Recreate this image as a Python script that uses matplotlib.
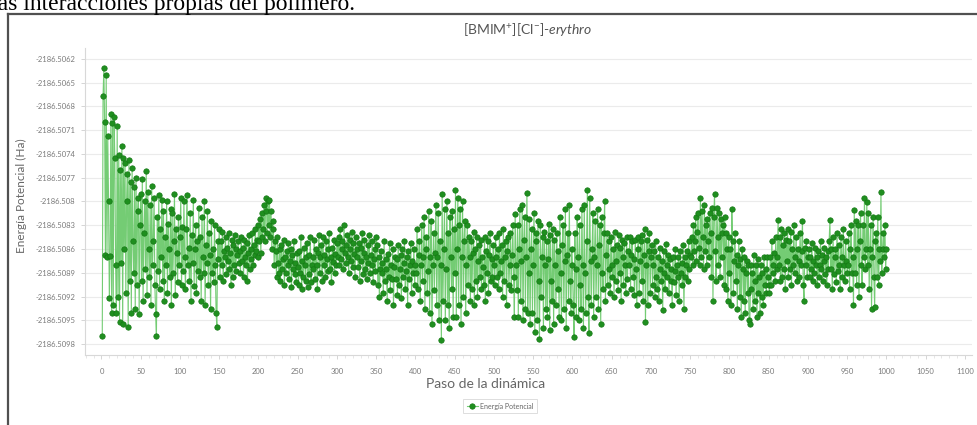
import matplotlib
matplotlib.use("Agg")
import matplotlib.pyplot as plt
from matplotlib.lines import Line2D
from matplotlib.ticker import MultipleLocator

# ---------------- data ----------------
ENERGY_BASE = -2186.5          # Ha
# energy = ENERGY_BASE - offset * 1e-5  (offsets, one per step)
energy_offset_1e5 = [
    969, 667, 632, 700, 868, 640, 870, 717, 799, 922, 869, 690, 941, 701, 930, 694, 745, 880, 940, 705, 920, 742, 952, 760, 878,
    730, 955, 745, 860, 752, 915, 800, 765, 958, 748, 900, 775, 940, 758, 850, 890, 782, 935, 770, 905, 812, 795, 942, 830, 790,
    900, 772, 925, 840, 800, 885, 762, 918, 788, 860, 895, 805, 930, 780, 880, 850, 795, 905, 942, 970, 820, 888, 792, 910, 835,
    870, 798, 900, 812, 925, 845, 880, 800, 915, 828, 860, 895, 810, 930, 815, 890, 850, 790, 918, 835, 865, 902, 820, 880, 845,
    795, 905, 832, 888, 800, 870, 910, 835, 792, 880, 858, 900, 815, 925, 842, 878, 798, 906, 860, 830, 915, 850, 888, 808, 895,
    845, 925, 820, 870, 890, 800, 930, 855, 878, 812, 905, 840, 868, 935, 825, 890, 860, 902, 830, 880, 940, 958, 850, 872, 835,
    895, 850, 880, 838, 900, 862, 870, 845, 892, 858, 875, 840, 885, 865, 905, 848, 895, 855, 880, 842, 888, 860, 868, 850, 878,
    862, 890, 845, 875, 858, 895, 848, 870, 880, 852, 900, 865, 842, 885, 860, 872, 840, 880, 855, 868, 835, 862, 848, 870, 830,
    850, 822, 865, 815, 845, 835, 805, 850, 812, 795, 840, 800, 830, 798, 845, 812, 860, 825, 835, 880, 850, 862, 895, 845, 878,
    890, 860, 900, 855, 885, 872, 848, 905, 870, 890, 862, 880, 852, 898, 875, 860, 908, 868, 885, 850, 892, 878, 902, 865, 882,
    905, 862, 890, 845, 910, 875, 895, 858, 880, 900, 870, 852, 908, 868, 892, 845, 902, 880, 870, 885, 848, 898, 860, 880, 910,
    865, 842, 890, 870, 855, 900, 845, 880, 868, 895, 850, 872, 888, 860, 840, 885, 870, 902, 858, 876, 848, 890, 866, 880, 852,
    870, 845, 880, 835, 872, 860, 850, 885, 830, 865, 855, 878, 842, 870, 890, 848, 860, 875, 838, 882, 852, 866, 895, 845, 870,
    860, 882, 852, 900, 858, 875, 840, 892, 865, 848, 885, 870, 898, 855, 878, 842, 890, 868, 880, 850, 902, 872, 860, 888, 845,
    855, 905, 870, 920, 885, 862, 890, 878, 915, 850, 900, 872, 885, 925, 866, 895, 852, 912, 880, 898, 860, 930, 882, 870, 898,
    872, 918, 855, 905, 885, 868, 922, 860, 895, 878, 850, 910, 888, 870, 930, 862, 898, 880, 852, 915, 875, 890, 860, 905, 880,
    890, 835, 910, 868, 850, 925, 880, 830, 900, 870, 820, 935, 860, 845, 915, 888, 812, 940, 870, 825, 955, 880, 840, 912, 865,
    805, 930, 870, 815, 950, 850, 880, 975, 791, 925, 860, 810, 950, 885, 800, 930, 840, 960, 820, 870, 910, 812, 945, 835, 890,
    786, 945, 860, 795, 930, 830, 810, 955, 870, 800, 920, 850, 825, 940, 880, 830, 905, 845, 870, 925, 850, 910, 865, 838, 930,
    860, 900, 845, 920, 875, 855, 895, 848, 910, 870, 882, 905, 845, 925, 862, 890, 850, 915, 868, 840, 900, 872, 895, 855, 880,
    905, 845, 870, 895, 860, 910, 840, 890, 875, 855, 920, 835, 900, 870, 850, 930, 862, 845, 905, 880, 840, 912, 868, 830, 895,
    945, 816, 880, 912, 830, 945, 860, 810, 925, 875, 805, 950, 848, 820, 935, 870, 789, 940, 890, 822, 955, 860, 835, 940, 880,
    815, 965, 850, 840, 950, 825, 900, 973, 830, 920, 870, 845, 960, 838, 880, 935, 850, 945, 872, 828, 962, 842, 900, 925, 835,
    955, 848, 880, 930, 840, 910, 862, 945, 820, 890, 950, 855, 830, 935, 875, 810, 960, 868, 840, 925, 805, 900, 940, 860, 880,
    930, 971, 840, 885, 945, 820, 870, 950, 830, 905, 935, 810, 880, 960, 805, 890, 940, 850, 786, 920, 966, 795, 875, 930, 860,
    815, 945, 870, 825, 920, 880, 810, 935, 855, 830, 954, 820, 890, 910, 840, 800, 925, 868, 840, 905, 850, 885, 915, 845, 880,
    895, 860, 920, 838, 900, 875, 855, 912, 842, 890, 858, 925, 848, 870, 905, 852, 880, 915, 845, 898, 862, 880, 845, 910, 868,
    850, 895, 872, 918, 848, 885, 931, 860, 845, 915, 875, 850, 900, 842, 925, 868, 835, 952, 880, 848, 930, 862, 840, 915, 870,
    855, 905, 880, 862, 920, 850, 895, 910, 870, 925, 858, 885, 900, 875, 937, 862, 890, 910, 853, 895, 880, 868, 915, 872, 900,
    885, 930, 870, 902, 888, 860, 918, 880, 895, 870, 925, 862, 890, 878, 905, 855, 935, 870, 895, 880, 862, 900, 850, 885, 868,
    870, 845, 880, 830, 862, 850, 820, 875, 838, 815, 858, 880, 796, 870, 812, 845, 885, 805, 862, 830, 880, 822, 850, 870, 815,
    840, 895, 808, 925, 820, 791, 862, 900, 808, 845, 880, 815, 895, 822, 870, 840, 830, 905, 820, 910, 840, 860, 925, 845, 890,
    860, 930, 810, 850, 915, 875, 840, 900, 868, 935, 880, 850, 920, 872, 945, 860, 885, 925, 870, 940, 890, 875, 915, 880, 950,
    954, 880, 910, 890, 935, 868, 925, 900, 880, 945, 872, 915, 895, 940, 880, 920, 890, 930, 870, 905, 885, 915, 870, 895, 905,
    915, 870, 905, 850, 890, 880, 865, 900, 845, 885, 870, 823, 880, 845, 900, 835, 895, 855, 885, 840, 910, 848, 875, 835, 895,
    850, 885, 838, 905, 860, 880, 830, 890, 870, 845, 900, 860, 875, 895, 840, 880, 862, 824, 905, 925, 858, 880, 850, 895, 870,
    860, 895, 870, 885, 852, 900, 875, 890, 858, 880, 870, 905, 862, 895, 880, 850, 885, 868, 900, 875, 858, 892, 870, 905, 862,
    885, 850, 823, 885, 860, 910, 845, 892, 870, 860, 902, 840, 888, 855, 880, 910, 845, 870, 895, 835, 880, 900, 850, 875, 890,
    880, 840, 910, 860, 830, 890, 870, 931, 811, 890, 825, 905, 860, 830, 920, 850, 815, 880, 905, 830, 870, 795, 885, 860, 801,
    880, 815, 910, 860, 830, 935, 870, 820, 895, 933, 850, 840, 895, 820, 905, 860, 875, 788, 890, 860, 840, 870, 830, 885, 860,
]
steps = list(range(1, len(energy_offset_1e5) + 1))
energy = [ENERGY_BASE - o * 1e-5 for o in energy_offset_1e5]

y_ticks = [-2186.5062, -2186.5065, -2186.5068, -2186.5071, -2186.5074, -2186.5077, -2186.5080,
           -2186.5083, -2186.5086, -2186.5089, -2186.5092, -2186.5095, -2186.5098]
y_tick_labels = ["-2186.5062", "-2186.5065", "-2186.5068", "-2186.5071", "-2186.5074", "-2186.5077",
                 "-2186.508", "-2186.5083", "-2186.5086", "-2186.5089", "-2186.5092", "-2186.5095",
                 "-2186.5098"]
x_ticks = list(range(0, 1101, 50))

title_text = r"[BMIM$^{+}$][Cl$^{-}$]-$\mathit{erythro}$"
x_label = "Paso de la dinámica"
y_label = "Energía Potencial (Ha)"
series_name = "Energía Potencial"
doc_text = "las interacciones propias del polímero."

# ---------------- style ----------------
plt.rcParams["font.family"] = ["Lato", "DejaVu Sans"]
plt.rcParams["mathtext.fontset"] = "custom"
plt.rcParams["mathtext.rm"] = "Lato"
plt.rcParams["mathtext.it"] = "Lato:italic"

W, H = 977, 425
fig = plt.figure(figsize=(W / 100, H / 100), dpi=100)
fig.patch.set_facecolor("white")

def fx(px):
    return px / W

def fy(py):
    return 1 - py / H

# document text (cut at the top)
fig.text(fx(-9), fy(10), doc_text, family=["Liberation Serif"], fontsize=17,
         color="black", ha="left", va="baseline")

# chart frame (left and top edges visible)
fig.add_artist(Line2D([fx(7.5), fx(7.5)], [fy(14), fy(440)], color="#505050", lw=1.6))
fig.add_artist(Line2D([fx(7.5), fx(990)], [fy(14), fy(14)], color="#505050", lw=1.6))

ax = fig.add_axes([fx(85), fy(355), fx(972) - fx(85), fy(48) - fy(355)])
ax.set_facecolor("white")

ax.plot(steps, energy, color="#74cc74", lw=0.8, marker="o", markersize=3.9,
        markerfacecolor="#1f8f1f", markeredgecolor="#147814", markeredgewidth=0.5,
        label=series_name, zorder=3)

ax.set_xlim(-21, 1109)
ax.set_ylim(-2186.509935, -2186.506065)
ax.set_yticks(y_ticks)
ax.set_yticklabels(y_tick_labels)
ax.set_xticks(x_ticks)
ax.set_xticklabels([str(t) for t in x_ticks])
ax.xaxis.set_minor_locator(MultipleLocator(10))

ax.grid(axis="y", color="#ebebeb", lw=0.8)
ax.grid(axis="x", visible=False)
ax.set_axisbelow(True)

for s in ["top", "right"]:
    ax.spines[s].set_visible(False)
for s in ["left", "bottom"]:
    ax.spines[s].set_color("#d8d8d8")
    ax.spines[s].set_linewidth(0.8)

ax.tick_params(axis="both", which="major", labelsize=5.5, labelcolor="#7a7a7a",
               color="#cfcfcf", length=3, width=0.6, pad=4)
ax.tick_params(axis="x", which="minor", color="#dcdcdc", length=2, width=0.5)
ax.tick_params(axis="x", which="major", pad=6)

fig.text(fx(528), fy(30), title_text, fontsize=10, color="#555555", ha="center", va="center")
fig.text(fx(486), fy(384), x_label, fontsize=10, color="#666666", ha="center", va="center")
fig.text(fx(21), fy(196), y_label, fontsize=8.5, color="#666666", ha="center", va="center",
         rotation=90)

leg = fig.legend(handles=ax.get_lines(), labels=[series_name], loc="center",
                 bbox_to_anchor=(fx(500), fy(406)), fontsize=5, frameon=True,
                 fancybox=False, handlelength=1.6, handletextpad=0.3, borderpad=0.5,
                 labelcolor="#666666")
leg.get_frame().set_edgecolor("#cfcfcf")
leg.get_frame().set_linewidth(0.6)

fig.savefig("out.png", dpi=100, facecolor="white")
